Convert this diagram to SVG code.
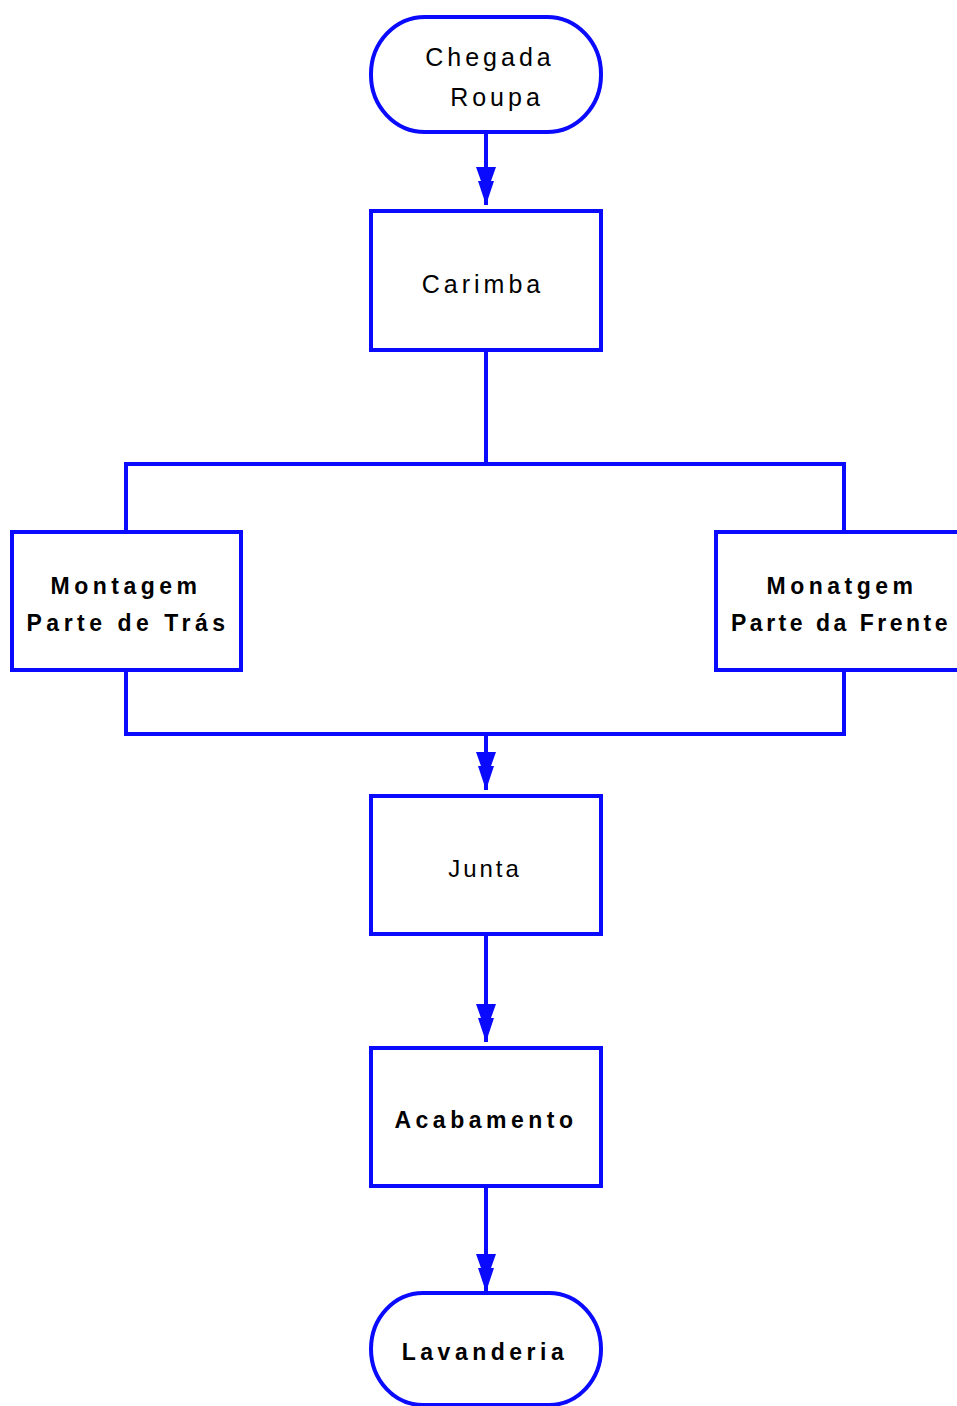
<svg xmlns="http://www.w3.org/2000/svg" width="957" height="1406" viewBox="0 0 957 1406">
<style>
.shape{fill:#ffffff;stroke:#0a0aff;stroke-width:4}
.conn{fill:none;stroke:#0a0aff;stroke-width:4}
.t{font-family:"Liberation Sans",Arial,sans-serif;fill:#000000;text-anchor:middle;font-size:25px;letter-spacing:4px}
.b{font-weight:bold;font-size:23px;letter-spacing:4.5px}
</style>
<defs>
<marker id="arr" markerUnits="userSpaceOnUse" markerWidth="40" markerHeight="22" refX="38" refY="11" orient="auto" viewBox="0 0 40 22">
<path d="M0,1 L0,21 L14,16 L14,19 L38,11 L14,3 L14,6 Z" fill="#0a0aff"/>
</marker>
</defs>
<rect width="957" height="1406" fill="#ffffff"/>
<g id="connectors">
<path class="conn" d="M486,132 V205" marker-end="url(#arr)"/>
<path class="conn" d="M486,350 V464 M126,532 V464 H844 V532"/>
<path class="conn" d="M126,670 V734 H844 V670"/>
<path class="conn" d="M486,734 V790" marker-end="url(#arr)"/>
<path class="conn" d="M486,934 V1042" marker-end="url(#arr)"/>
<path class="conn" d="M486,1186 V1292" marker-end="url(#arr)"/>
</g>
<g id="chegada">
<rect class="shape" x="371" y="17" width="230" height="115" rx="54" ry="57"/>
<text class="t" x="490" y="66">Chegada</text>
<text class="t" x="497" y="106">Roupa</text>
</g>
<g id="carimba">
<rect class="shape" x="371" y="211" width="230" height="139"/>
<text class="t" x="483" y="293">Carimba</text>
</g>
<g id="montagem-tras">
<rect class="shape" x="12" y="532" width="229" height="138"/>
<text class="t b" x="126" y="594">Montagem</text>
<text class="t b" x="128" y="631">Parte de Trás</text>
</g>
<g id="montagem-frente">
<rect class="shape" x="716" y="532" width="250" height="138"/>
<text class="t b" x="842" y="594">Monatgem</text>
<text class="t b" x="841" y="631" style="letter-spacing:3.5px">Parte da Frente</text>
</g>
<g id="junta">
<rect class="shape" x="371" y="796" width="230" height="138"/>
<text class="t" x="485" y="877" style="font-size:24px;letter-spacing:3px">Junta</text>
</g>
<g id="acabamento">
<rect class="shape" x="371" y="1048" width="230" height="138"/>
<text class="t b" x="486" y="1128">Acabamento</text>
</g>
<g id="lavanderia">
<rect class="shape" x="371" y="1293" width="230" height="112" rx="52" ry="56"/>
<text class="t b" x="485" y="1360">Lavanderia</text>
</g>
</svg>
